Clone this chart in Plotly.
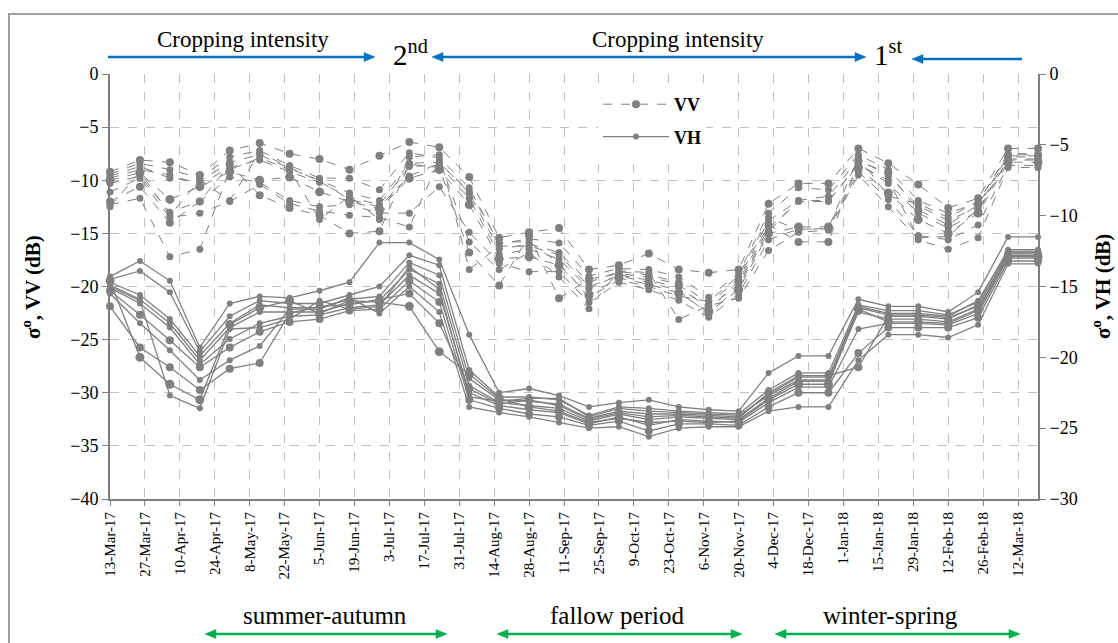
import plotly.graph_objects as go

# ---------------- data ----------------
dates = ["2017-03-13", "2017-03-25", "2017-04-06", "2017-04-18", "2017-04-30", "2017-05-12",
         "2017-05-24", "2017-06-05", "2017-06-17", "2017-06-29", "2017-07-11", "2017-07-23",
         "2017-08-04", "2017-08-16", "2017-08-28", "2017-09-09", "2017-09-21", "2017-10-03",
         "2017-10-15", "2017-10-27", "2017-11-08", "2017-11-20", "2017-12-02", "2017-12-14",
         "2017-12-26", "2018-01-07", "2018-01-19", "2018-01-31", "2018-02-12", "2018-02-24",
         "2018-03-08", "2018-03-20"]

tick_dates = ["2017-03-13", "2017-03-27", "2017-04-10", "2017-04-24", "2017-05-08", "2017-05-22",
              "2017-06-05", "2017-06-19", "2017-07-03", "2017-07-17", "2017-07-31", "2017-08-14",
              "2017-08-28", "2017-09-11", "2017-09-25", "2017-10-09", "2017-10-23", "2017-11-06",
              "2017-11-20", "2017-12-04", "2017-12-18", "2018-01-01", "2018-01-15", "2018-01-29",
              "2018-02-12", "2018-02-26", "2018-03-12"]
tick_labels = ["13-Mar-17", "27-Mar-17", "10-Apr-17", "24-Apr-17", "8-May-17", "22-May-17",
               "5-Jun-17", "19-Jun-17", "3-Jul-17", "17-Jul-17", "31-Jul-17", "14-Aug-17",
               "28-Aug-17", "11-Sep-17", "25-Sep-17", "9-Oct-17", "23-Oct-17", "6-Nov-17",
               "20-Nov-17", "4-Dec-17", "18-Dec-17", "1-Jan-18", "15-Jan-18", "29-Jan-18",
               "12-Feb-18", "26-Feb-18", "12-Mar-18"]

# VV backscatter (left axis, dB)
vv_1 = [-9.2, -8.1, -8.3, -9.5, -7.2, -6.5, -7.5, -8.0, -9.0, -7.7, -6.4, -6.9, -9.7, -15.4, -14.9, -14.5,
        -18.4, -18.0, -16.9, -18.4, -18.7, -18.4, -12.2, -10.3, -10.3, -7.0, -8.4, -10.4, -12.6, -11.7, -7.0, -7.0]
vv_2 = [-9.4, -8.4, -9.0, -9.8, -7.8, -7.2, -8.6, -9.8, -9.8, -10.9, -7.4, -7.9, -10.7, -16.0, -15.5, -15.9,
        -19.0, -18.3, -18.4, -19.1, -21.0, -18.8, -13.1, -10.7, -10.9, -7.6, -9.0, -11.9, -13.1, -12.1, -7.5, -7.5]
vv_3 = [-9.6, -8.7, -9.8, -10.1, -8.3, -7.6, -8.9, -10.0, -11.2, -11.9, -8.4, -8.3, -11.2, -16.5, -16.0, -16.8,
        -19.6, -18.6, -18.9, -19.6, -21.6, -19.3, -13.8, -11.9, -11.5, -8.0, -9.6, -12.4, -13.8, -12.5, -7.8, -7.8]
vv_4 = [-9.8, -9.0, -9.5, -10.4, -8.8, -8.1, -9.2, -10.2, -11.6, -12.3, -8.7, -8.6, -11.7, -17.0, -16.5, -17.4,
        -20.2, -18.9, -19.4, -20.1, -22.0, -19.8, -14.5, -12.0, -12.0, -8.4, -10.3, -13.1, -14.5, -12.9, -8.0, -8.0]
vv_5 = [-10.0, -9.3, -11.8, -10.6, -9.2, -10.0, -9.7, -11.1, -12.0, -12.7, -9.8, -9.0, -12.3, -17.4, -17.2, -18.0,
        -20.8, -19.2, -19.8, -20.6, -22.4, -20.3, -15.0, -14.4, -14.4, -8.8, -11.2, -13.7, -15.0, -13.1, -8.3, -8.3]
vv_6 = [-10.3, -9.6, -13.0, -12.0, -9.7, -10.2, -11.9, -12.5, -12.3, -13.1, -13.1, -10.6, -14.9, -17.8, -18.6, -18.6,
        -21.5, -19.6, -20.3, -21.3, -22.9, -20.7, -15.6, -14.6, -14.6, -9.2, -11.8, -15.2, -15.6, -14.2, -8.6, -8.6]
vv_7 = [-11.1, -9.8, -13.5, -13.1, -12.0, -10.4, -12.2, -12.9, -13.3, -13.5, -14.4, -8.1, -15.8, -18.4, -16.8, -19.1,
        -22.1, -18.5, -18.7, -23.1, -21.8, -21.1, -16.6, -14.9, -14.7, -9.5, -12.5, -15.6, -16.5, -15.4, -8.8, -8.8]
vv_8 = [-12.0, -10.6, -14.0, -12.0, -8.5, -11.4, -12.6, -13.3, -15.0, -14.8, -8.5, -8.8, -16.8, -19.9, -15.2, -21.1,
        -19.3, -18.8, -19.1, -19.8, -22.2, -19.5, -14.2, -15.8, -15.8, -8.2, -9.3, -12.8, -14.2, -12.3, -7.7, -7.7]
vv_9 = [-12.3, -11.7, -17.2, -16.5, -9.0, -7.9, -9.0, -13.7, -11.5, -13.7, -7.8, -7.6, -18.4, -16.2, -16.2, -17.0,
        -20.0, -19.0, -19.6, -20.4, -22.6, -20.0, -14.8, -11.9, -11.9, -8.6, -10.0, -15.4, -15.3, -12.7, -8.1, -8.1]
vv_10 = [-12.5, -9.2, -13.3, -10.0, -11.9, -7.4, -8.8, -10.1, -11.8, -12.5, -9.6, -8.4, -11.0, -15.8, -15.8, -17.8,
         -21.0, -19.4, -20.0, -20.9, -21.4, -19.0, -13.5, -14.7, -14.5, -7.8, -11.5, -12.2, -13.5, -12.0, -7.6, -7.6]

# VH backscatter (right axis, dB)
vh_1 = [-14.3, -13.2, -14.6, -19.3, -16.2, -15.7, -15.8, -15.3, -14.7, -11.9, -11.9, -13.1, -18.4, -22.5, -22.2, -22.7,
        -23.5, -23.2, -23.0, -23.5, -23.7, -23.8, -21.1, -19.9, -19.9, -15.9, -16.4, -16.4, -16.8, -15.4, -11.5, -11.5]
vh_2 = [-14.5, -13.9, -15.4, -19.6, -17.1, -16.0, -16.2, -16.2, -15.6, -15.0, -12.8, -13.5, -20.9, -22.8, -22.8, -23.0,
        -24.1, -23.5, -23.6, -23.8, -23.9, -24.0, -22.3, -21.1, -21.1, -16.3, -16.7, -16.7, -17.0, -16.1, -12.4, -12.4]
vh_3 = [-14.7, -15.6, -17.3, -19.9, -17.6, -16.3, -16.5, -16.5, -15.9, -15.7, -13.3, -14.2, -21.5, -23.0, -23.1, -23.3,
        -24.3, -23.8, -24.0, -24.0, -24.1, -24.2, -22.6, -21.4, -21.4, -16.5, -17.0, -17.0, -17.2, -16.4, -12.6, -12.6]
vh_4 = [-14.9, -15.9, -17.6, -20.2, -17.9, -16.8, -16.8, -16.8, -16.2, -16.0, -13.8, -14.8, -22.0, -23.2, -23.4, -23.6,
        -24.5, -24.0, -24.4, -24.2, -24.3, -24.4, -22.9, -21.7, -21.7, -16.8, -17.3, -17.3, -17.5, -16.6, -12.8, -12.8]
vh_5 = [-15.1, -16.2, -17.9, -20.5, -18.7, -17.6, -17.1, -17.0, -16.5, -16.3, -14.2, -15.5, -22.5, -23.4, -23.7, -23.9,
        -24.7, -24.2, -24.8, -24.4, -24.5, -24.6, -23.2, -22.1, -22.1, -18.0, -17.6, -17.6, -17.7, -16.9, -13.0, -13.0]
vh_6 = [-15.3, -17.0, -18.8, -20.7, -19.3, -18.2, -17.5, -17.3, -16.7, -16.6, -14.6, -16.1, -23.0, -23.6, -24.0, -24.2,
        -24.8, -24.5, -25.2, -24.7, -24.7, -24.8, -23.5, -22.5, -22.5, -19.7, -17.9, -17.9, -17.9, -17.2, -13.2, -13.2]
vh_7 = [-15.5, -17.6, -19.5, -21.6, -20.2, -19.2, -16.6, -16.6, -15.8, -16.9, -15.0, -16.8, -23.5, -23.9, -24.2, -24.6,
        -25.0, -24.9, -25.6, -25.0, -24.9, -24.9, -23.8, -23.5, -23.5, -20.2, -18.4, -18.4, -18.6, -17.7, -13.4, -13.4]
vh_8 = [-16.4, -19.3, -20.7, -22.3, -20.8, -20.4, -16.9, -16.4, -16.3, -15.9, -15.5, -17.6, -22.2, -23.3, -23.0, -23.4,
        -24.4, -23.9, -24.2, -24.1, -24.2, -24.3, -22.5, -21.3, -21.3, -20.7, -17.1, -17.1, -17.3, -16.3, -12.7, -12.7]
vh_9 = [-14.6, -20.0, -21.9, -23.0, -17.7, -16.5, -16.0, -16.9, -16.0, -16.1, -16.4, -19.6, -21.2, -22.9, -23.5, -23.8,
        -24.6, -24.3, -24.6, -24.5, -24.6, -24.5, -23.0, -21.9, -21.9, -16.6, -17.5, -17.5, -17.6, -16.7, -12.9, -12.9]
vh_10 = [-15.0, -16.0, -22.7, -23.6, -18.0, -17.9, -17.3, -16.0, -16.6, -16.4, -13.6, -15.2, -22.8, -23.1, -22.9, -22.9,
         -24.2, -23.6, -23.8, -23.9, -24.0, -24.1, -22.7, -21.6, -21.6, -16.4, -16.9, -16.9, -17.1, -16.0, -12.5, -12.5]

vv_series = [vv_1, vv_2, vv_3, vv_4, vv_5, vv_6, vv_7, vv_8, vv_9, vv_10]
vh_series = [vh_1, vh_2, vh_3, vh_4, vh_5, vh_6, vh_7, vh_8, vh_9, vh_10]
vv_marker = [8, 7, 7, 7, 9, 7, 7, 8, 7, 7]
vh_marker = [6, 6, 6, 6, 6, 8, 6, 8, 9, 6]

# ---------------- figure ----------------
GREY = "#808080"
FONT = "Liberation Serif"
fig = go.Figure()

for k, s in enumerate(vv_series):
    fig.add_trace(go.Scatter(
        x=dates, y=s, name="<b>VV</b>", mode="lines+markers", yaxis="y",
        line=dict(color=GREY, width=1, dash="dash"),
        marker=dict(color=GREY, size=vv_marker[k]),
        legendgroup="vv", showlegend=(k == 0), cliponaxis=False))

for k, s in enumerate(vh_series):
    fig.add_trace(go.Scatter(
        x=dates, y=s, name="<b>VH</b>", mode="lines+markers", yaxis="y2",
        line=dict(color=GREY, width=1.3),
        marker=dict(color=GREY, size=vh_marker[k]),
        legendgroup="vh", showlegend=(k == 0), cliponaxis=False))

# pixel -> paper helpers (plot area 110..1038 x, 74..499 y)
L, R, T, B = 110, 1038, 74, 499
def px(x):
    return (x - L) / (R - L)
def py(y):
    return (B - y) / (B - T)

BLUE = "#0070c0"
GREEN = "#00b050"
ann = []
shapes = []

def text_ann(x, y, text, size, angle=0):
    ann.append(dict(x=px(x), y=py(y), text=text, showarrow=False, textangle=angle,
                    xanchor="center", yanchor="middle", xref="paper", yref="paper",
                    font=dict(family=FONT, size=size, color="black")))

HEAD_L, HEAD_W = 11, 4.5
def head(xtip, y, direction, color):
    xb = xtip - direction * HEAD_L
    path = (f"M {px(xtip)},{py(y)} L {px(xb)},{py(y - HEAD_W)} "
            f"L {px(xb)},{py(y + HEAD_W)} Z")
    shapes.append(dict(type="path", xref="paper", yref="paper", path=path,
                       fillcolor=color, line=dict(color=color, width=0.5)))

def arrow(x_from, x_to, y, color, both=False):
    d = 1 if x_to > x_from else -1
    xs = x_from + (d * HEAD_L * 0.8 if both else 0)
    xe = x_to - d * HEAD_L * 0.8
    shapes.append(dict(type="line", xref="paper", yref="paper",
                       x0=px(xs), x1=px(xe), y0=py(y), y1=py(y),
                       line=dict(color=color, width=2.5)))
    head(x_to, y, d, color)
    if both:
        head(x_from, y, -d, color)

# top texts and arrows
text_ann(243, 40, "Cropping intensity", 23)
text_ann(678, 40, "Cropping intensity", 23)
text_ann(410, 53, "2<sup>nd</sup>", 29)
text_ann(888, 53, "1<sup>st</sup>", 29)
arrow(108, 375, 57, BLUE)
arrow(432, 866, 57, BLUE, both=True)
arrow(1022, 912, 59, BLUE)

# bottom periods
periods = [("summer-autumn", 325, 205, 447), ("fallow period", 617, 497, 742),
           ("winter-spring", 890, 775, 1020)]
for name, cx, x0, x1 in periods:
    text_ann(cx, 615, name, 25)
    arrow(x0, x1, 634, GREEN, both=True)

# axis titles
text_ann(31, 287, "<b>σ<sup>o</sup>, VV (dB)</b>", 21, -90)
text_ann(1101, 287, "<b>σ<sup>o</sup>, VH (dB)</b>", 21, -90)

# outer frame
shapes.append(dict(type="rect", xref="paper", yref="paper",
                   x0=px(9), x1=px(1130), y0=py(660), y1=py(14),
                   line=dict(color="#a0a0a0", width=2), layer="below"))

fig.update_layout(
    width=1118, height=643,
    margin=dict(l=L, r=1118 - R, t=T, b=643 - B),
    paper_bgcolor="white", plot_bgcolor="white",
    font=dict(family=FONT, color="black"),
    annotations=ann,
    shapes=shapes,
    xaxis=dict(type="date", range=["2017-03-13", "2018-03-20"],
               tickmode="array", tickvals=tick_dates, ticktext=tick_labels,
               tickangle=-90, tickfont=dict(family=FONT, size=15, color="black"),
               showline=True, linecolor=GREY, linewidth=2,
               ticks="outside", ticklen=5, tickcolor=GREY, tickwidth=1,
               showgrid=True, gridcolor="#c0c0c0", griddash="dash", gridwidth=1,
               zeroline=False),
    yaxis=dict(range=[-40, 0], dtick=5, tick0=0,
               tickfont=dict(family=FONT, size=18, color="black"),
               showline=True, linecolor=GREY, linewidth=2,
               ticks="outside", ticklen=6, tickcolor=GREY, tickwidth=1,
               showgrid=True, gridcolor="#c0c0c0", griddash="dash", gridwidth=1,
               zeroline=False),
    yaxis2=dict(range=[-30, 0], dtick=5, tick0=0, overlaying="y", side="right",
                tickfont=dict(family=FONT, size=18, color="black"),
                showline=True, linecolor=GREY, linewidth=2,
                ticks="outside", ticklen=6, tickcolor=GREY, tickwidth=1,
                showgrid=False, zeroline=False),
    legend=dict(x=px(598), y=py(86), xanchor="left", yanchor="top",
                bgcolor="white", borderwidth=0, itemwidth=66,
                font=dict(family=FONT, size=18, color="black"),
                traceorder="grouped", tracegroupgap=6),
)

fig.write_html("out.html", config={"displayModeBar": False},
               post_script="document.body.style.margin='0';document.body.style.overflow='hidden';")
